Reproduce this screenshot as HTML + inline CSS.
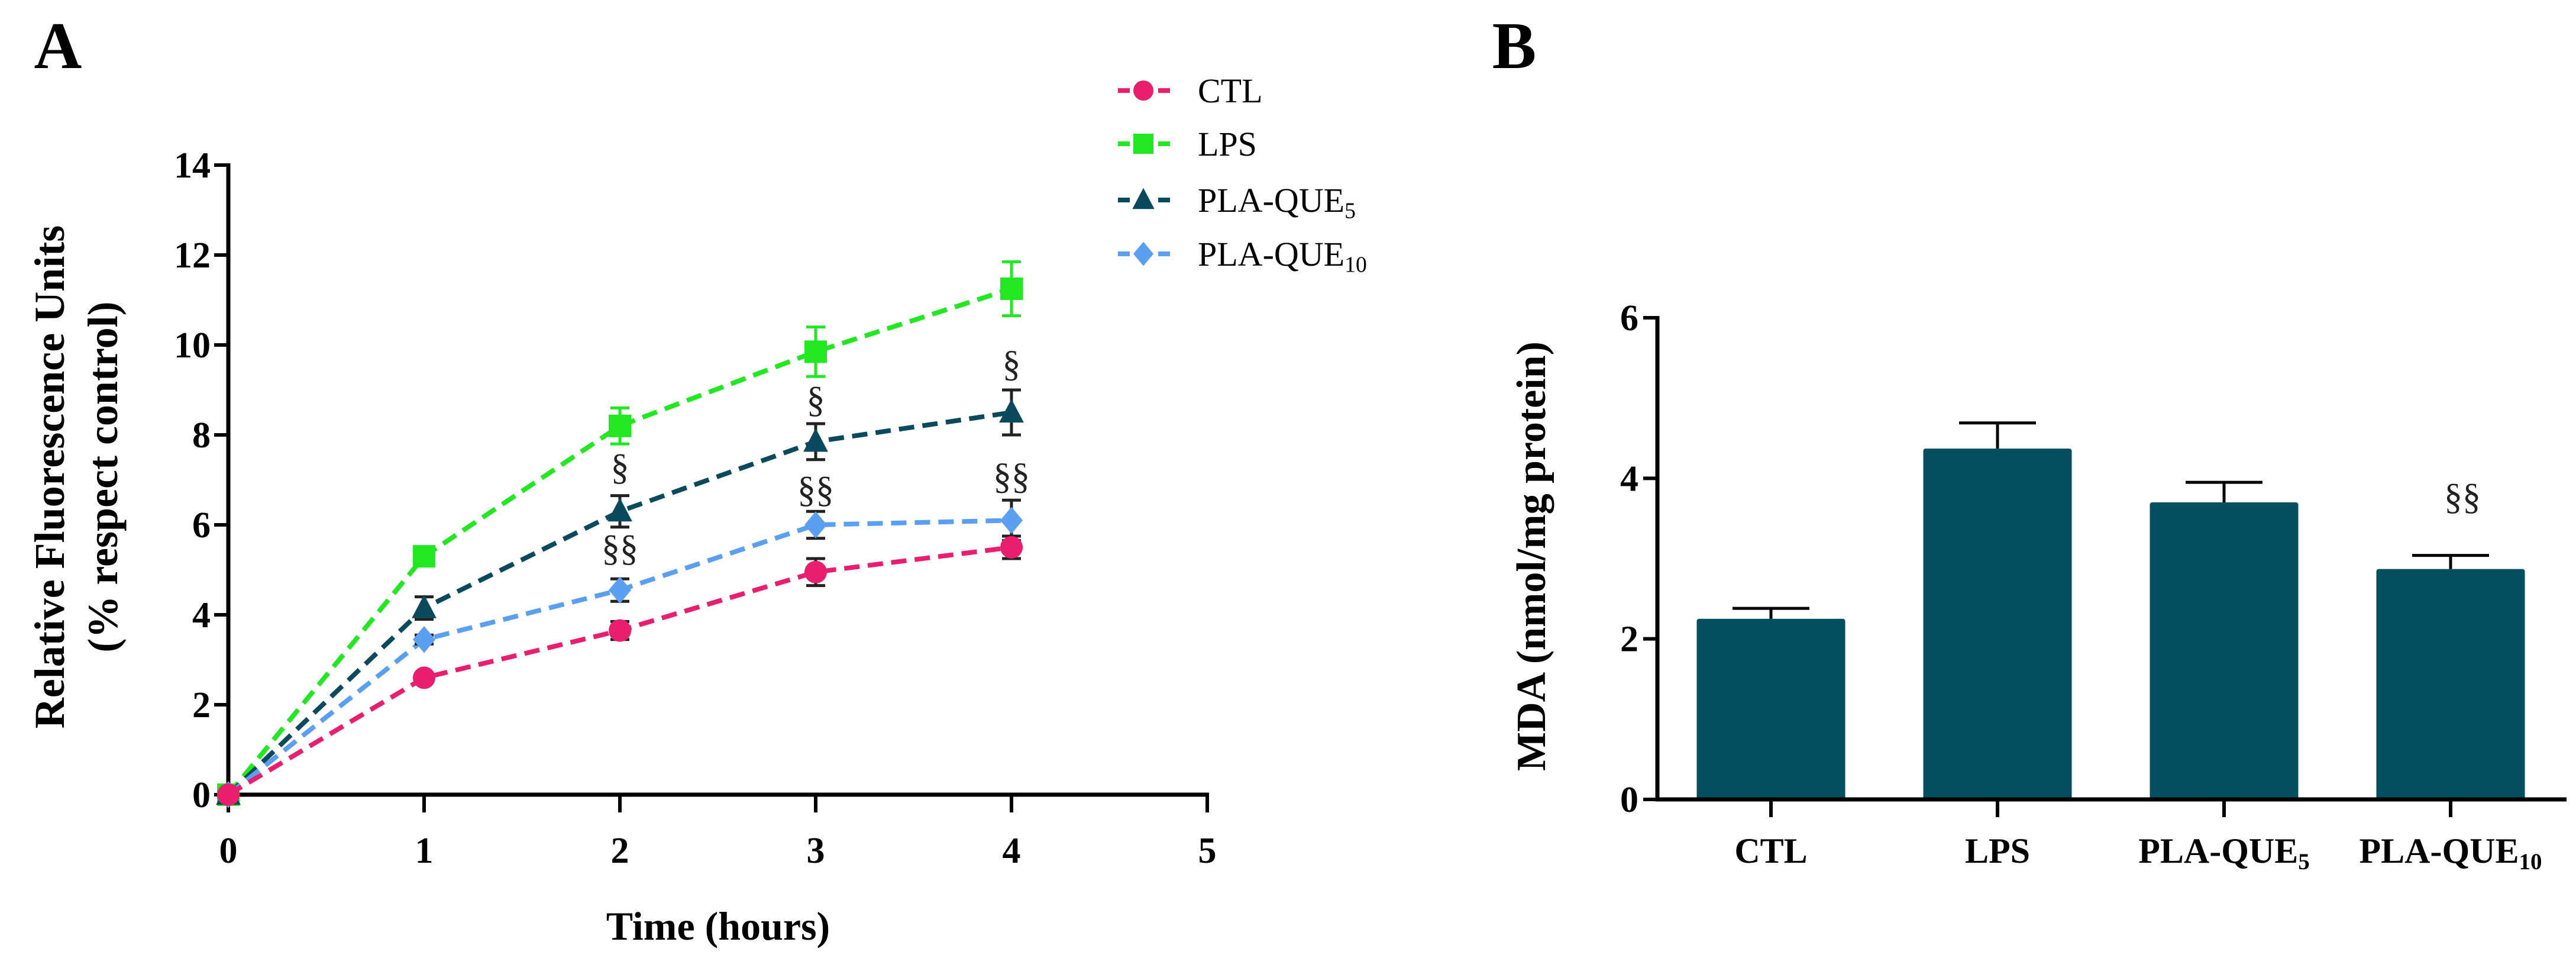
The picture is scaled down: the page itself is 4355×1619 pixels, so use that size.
<!DOCTYPE html>
<html><head><meta charset="utf-8"><style>
html,body{margin:0;padding:0;background:#fff}
svg{display:block;font-family:"Liberation Serif",serif}
</style></head><body>
<svg id="fig" width="4355" height="1619" viewBox="0 0 4355 1619" xmlns="http://www.w3.org/2000/svg">
<rect width="4355" height="1619" fill="#fff"/>
<text x="98" y="115" font-size="112" font-weight="bold" text-anchor="middle">A</text>
<text x="2560" y="115" font-size="112" font-weight="bold" text-anchor="middle">B</text>
<g id="chartA"></g>
<g id="chartB"></g>
</svg>
<script>
const NS="http://www.w3.org/2000/svg";
// ---- Chart A data ----
const timePoints=[0,1,2,3,4];
const xTicks=[0,1,2,3,4,5];
const yTicksA=[0,2,4,6,8,10,12,14];
const seriesNames=["CTL","LPS","PLA-QUE5","PLA-QUE10"];
const ctlValues=[0,2.6,3.65,4.95,5.5];
const ctlErr=[0,0.1,0.2,0.3,0.25];
const lpsValues=[0,5.3,8.2,9.85,11.25];
const lpsErr=[0,0.1,0.4,0.55,0.6];
const pla5Values=[0,4.15,6.3,7.85,8.5];
const pla5Err=[0,0.25,0.35,0.4,0.5];
const pla10Values=[0,3.45,4.55,6.0,6.1];
const pla10Err=[0,0.1,0.25,0.3,0.45];
const annotX=[2,2,3,3,4,4];
const annotY=[7.3,5.5,8.8,6.8,9.6,7.1];
const annotText=["§","§§","§","§§","§","§§"];
// ---- Chart B data ----
const barCategories=["CTL","LPS","PLA-QUE5","PLA-QUE10"];
const barValues=[2.25,4.37,3.7,2.87];
const barErr=[0.13,0.32,0.25,0.17];
const yTicksB=[0,2,4,6];
const barAnnot=["","","","§§"];

function el(tag,attrs,parent){const e=document.createElementNS(NS,tag);for(const k in attrs)e.setAttribute(k,attrs[k]);parent.appendChild(e);return e;}
function label(parent,x,y,name,sub,size,anchor,weight){
  const t=el("text",{x:x,y:y,"font-size":size,"text-anchor":anchor,"font-weight":weight},parent);
  t.appendChild(document.createTextNode(name));
  if(sub){const s=el("tspan",{"font-size":size*0.65,dy:size*0.18},t);s.textContent=sub;}
  return t;
}
// ---- Chart A ----
const A=document.getElementById("chartA");
const ax0=386,ax1=2041,ay0=1343,ay1=279;
const xA=v=>ax0+(ax1-ax0)*v/5;
const yA=v=>ay0-(ay0-ay1)*v/14;
let g=el("g",{},A);


el("line",{x1:ax0,y1:ay0+3,x2:ax0,y2:ay1-3,stroke:"#000","stroke-width":7},g);
yTicksA.forEach(v=>{
  el("line",{x1:ax0-24,y1:yA(v),x2:ax0,y2:yA(v),stroke:"#000","stroke-width":6},g);
  const t=el("text",{x:ax0-30,y:yA(v)+21,"font-size":62,"font-weight":"bold","text-anchor":"end"},g);
  t.textContent=v;
  
  
});
g=el("g",{},A);


el("line",{x1:ax0-3,y1:ay0,x2:ax1+3,y2:ay0,stroke:"#000","stroke-width":7},g);
xTicks.forEach(v=>{
  el("line",{x1:xA(v),y1:ay0,x2:xA(v),y2:ay0+30,stroke:"#000","stroke-width":6},g);
  const t=el("text",{x:xA(v),y:1458,"font-size":62,"font-weight":"bold","text-anchor":"middle"},g);
  t.textContent=v;
  
  
});
let t=el("text",{x:1214,y:1588,"font-size":68,"font-weight":"bold","text-anchor":"middle"},A);
t.textContent="Time (hours)";


t=el("text",{transform:"translate(108,806) rotate(-90)","font-size":72,"font-weight":"bold","text-anchor":"middle"},A);
t.textContent="Relative Fluorescence Units";


t=el("text",{transform:"translate(198,806) rotate(-90)","font-size":72,"font-weight":"bold","text-anchor":"middle"},A);
t.textContent="(% respect control)";



const series=[
 {name:"CTL",sub:"",vals:ctlValues,err:ctlErr,color:"#e91e6e",m:"circle"},
 {name:"LPS",sub:"",vals:lpsValues,err:lpsErr,color:"#22e822",m:"square"},
 {name:"PLA-QUE",sub:"5",vals:pla5Values,err:pla5Err,color:"#0b4a5c",m:"triangle"},
 {name:"PLA-QUE",sub:"10",vals:pla10Values,err:pla10Err,color:"#5a9ff0",m:"diamond"}
];
function marker(parent,type,x,y,c,s){
  if(type==="circle")return el("circle",{cx:x,cy:y,r:s,fill:c},parent);
  if(type==="square")return el("rect",{x:x-s,y:y-s,width:2*s,height:2*s,fill:c},parent);
  if(type==="triangle")return el("polygon",{points:`${x},${y-s*1.2} ${x-s*1.1},${y+s*0.9} ${x+s*1.1},${y+s*0.9}`,fill:c},parent);
  return el("polygon",{points:`${x},${y-s*1.2} ${x+s},${y} ${x},${y+s*1.2} ${x-s},${y}`,fill:c},parent);
}
const drawOrder=[1,2,3,0];
drawOrder.forEach(i=>{
  const s=series[i];
  const sg=el("g",{},A);
  
  
  const pts=timePoints.map((tp,j)=>xA(tp)+","+yA(s.vals[j])).join(" ");
  el("polyline",{points:pts,fill:"none",stroke:s.color,"stroke-width":8,"stroke-dasharray":"26,14"},sg);
  timePoints.forEach((tp,j)=>{
    if(s.err[j]>0){
      const x=xA(tp);
      const ec=i===1?s.color:"#222";
      el("line",{x1:x,y1:yA(s.vals[j]-s.err[j]),x2:x,y2:yA(s.vals[j]+s.err[j]),stroke:ec,"stroke-width":5},sg);
      [s.vals[j]-s.err[j],s.vals[j]+s.err[j]].forEach(v=>el("line",{x1:x-16,y1:yA(v),x2:x+16,y2:yA(v),stroke:ec,"stroke-width":5},sg));
    }
    const m=marker(sg,s.m,xA(tp),yA(s.vals[j]),s.color,19);
    
    
  });
});
annotX.forEach((x,i)=>{
  const a=el("text",{x:xA(x),y:yA(annotY[i])+22,"font-size":62,"text-anchor":"middle",fill:"#222"},A);
  a.textContent=annotText[i];
  
  
});
// legend
const legY=[153,243,338,429];
series.forEach((s,i)=>{
  const lg=el("g",{},A);
  
  
  el("line",{x1:1890,y1:legY[i],x2:1980,y2:legY[i],stroke:s.color,"stroke-width":8,"stroke-dasharray":"20,14"},lg);
  el("rect",{x:1915,y:legY[i]-22,width:36,height:44,fill:"#fff"},lg);
  marker(lg,s.m,1933,legY[i],s.color,17);
  label(lg,2025,legY[i]+20,s.name,s.sub,58,"start","normal");
});
// ---- Chart B ----
const B=document.getElementById("chartB");
const bx0=2802,bx1=4339,by0=1351,by1=537;
const yB=v=>by0-(by0-by1)*v/6;
const xB=i=>2994+383*i;
const bw=251;
g=el("g",{},B);


el("line",{x1:bx0,y1:by0+3,x2:bx0,y2:by1-3,stroke:"#000","stroke-width":7},g);
yTicksB.forEach(v=>{
  el("line",{x1:bx0-24,y1:yB(v),x2:bx0,y2:yB(v),stroke:"#000","stroke-width":6},g);
  const tt=el("text",{x:bx0-32,y:yB(v)+21,"font-size":62,"font-weight":"bold","text-anchor":"end"},g);
  tt.textContent=v;
  
  
});
t=el("text",{transform:"translate(2612,940) rotate(-90)","font-size":70,"font-weight":"bold","text-anchor":"middle"},B);
t.textContent="MDA (nmol/mg protein)";


barCategories.forEach((c,i)=>{
  const x=xB(i);
  const bg=el("g",{},B);
  
  
  const top=yB(barValues[i]+barErr[i]);
  el("line",{x1:x,y1:yB(barValues[i]),x2:x,y2:top,stroke:"#000","stroke-width":5},bg);
  el("line",{x1:x-65,y1:top,x2:x+65,y2:top,stroke:"#000","stroke-width":5},bg);
  el("rect",{x:x-bw/2,y:yB(barValues[i]),width:bw,height:by0-yB(barValues[i]),fill:"#044f5f",rx:4},bg);
  el("line",{x1:x,y1:by0,x2:x,y2:by0+30,stroke:"#000","stroke-width":6},bg);
  const base=c.replace(/\d+$/,""),sub=c.slice(base.length);
  const lt=label(bg,x,1458,base,sub,60,"middle","bold");
  
  
  if(barAnnot[i]){
    const a=el("text",{x:x+20,y:860,"font-size":62,"text-anchor":"middle",fill:"#222"},bg);
    a.textContent=barAnnot[i];
    
    
  }
});
el("line",{x1:bx0-3,y1:by0,x2:bx1,y2:by0,stroke:"#000","stroke-width":7},B);
</script>
</body></html>
